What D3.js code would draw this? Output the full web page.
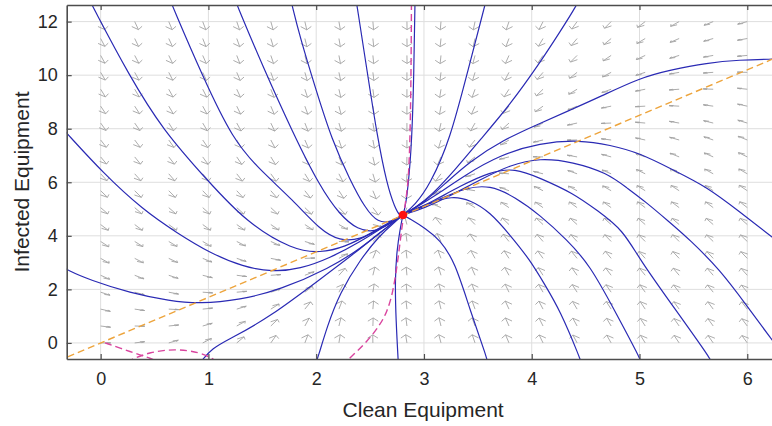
<!DOCTYPE html>
<html>
<head>
<meta charset="utf-8">
<script src="https://cdn.jsdelivr.net/npm/d3@7"></script>
<style>
  body { margin: 0; background: #fff; }
  svg { display: block; }
  text { font-family: "Liberation Sans", Arial, Helvetica, sans-serif; fill: #262626; }
</style>
</head>
<body>
<svg id="chart" width="772" height="426"></svg>
<script>
// ---- axis setup ----
const xTicks = [0, 1, 2, 3, 4, 5, 6];
const yTicks = [0, 2, 4, 6, 8, 10, 12];
const xTitle = "Clean Equipment";
const yTitle = "Infected Equipment";

// ---- equilibrium point ----
const equilibrium = [2.805, 4.78];

// ---- direction field sample grid ----
const quiverX = [0, 0.316, 0.632, 0.947, 1.263, 1.579, 1.895, 2.211, 2.526, 2.842,
                 3.158, 3.474, 3.789, 4.105, 4.421, 4.737, 5.053, 5.368, 5.684, 6];
const quiverY = [12, 11.368, 10.737, 10.105, 9.474, 8.842, 8.211, 7.579, 6.947, 6.316,
                 5.684, 5.053, 4.421, 3.789, 3.158, 2.526, 1.895, 1.263, 0.632, 0];
// arrow heading on screen, degrees (0 = right, 90 = down), one row per quiverY value
const quiverAngle = [
  [63,65,67,69,71,74,77,80,85,89,95,102,109,117,126,135,143,151,158,165],
  [62,64,65,68,70,73,76,80,84,89,96,103,111,121,130,140,149,157,164,170],
  [61,62,64,66,69,71,75,79,84,89,96,105,114,125,135,146,155,163,170,175],
  [59,61,63,65,67,70,74,78,83,90,97,107,118,130,142,152,162,170,176,181],
  [58,59,61,63,65,68,72,77,82,90,99,110,123,136,149,160,169,176,182,186],
  [56,57,59,61,64,67,70,75,81,90,100,114,129,145,158,169,177,183,188,192],
  [54,55,57,59,61,64,68,73,80,90,103,120,138,155,168,178,185,190,194,197],
  [52,53,55,56,59,62,66,71,79,90,107,129,150,167,179,187,192,196,199,202],
  [50,51,52,54,56,58,62,68,77,91,114,142,166,181,190,195,199,202,204,206],
  [47,48,49,50,52,54,58,63,73,92,127,163,184,194,200,203,206,208,209,210],
  [44,45,45,46,47,49,52,57,67,95,157,189,200,206,208,210,212,213,213,214],
  [41,41,41,42,42,43,44,46,53,112,203,211,214,215,216,216,217,217,217,218],
  [37,37,36,36,35,34,33,29,13,255,231,226,224,223,222,222,221,221,221,221],
  [33,32,31,30,27,24,17,2,-44,263,243,235,231,229,227,226,225,225,224,224],
  [29,27,25,22,18,11,-2,-28,-67,264,249,241,237,234,231,230,228,227,227,226],
  [24,21,18,14,7,-4,-21,-48,-76,265,253,246,241,237,235,233,231,230,229,228],
  [18,15,11,4,-5,-18,-38,-61,-81,265,255,248,244,240,237,235,234,232,231,230],
  [13,8,3,-6,-17,-32,-51,-69,-85,264,256,250,245,242,239,237,236,234,233,232],
  [7,1,-6,-16,-29,-44,-61,-76,-88,263,256,250,246,243,241,239,237,235,234,233],
  [0,-7,-16,-27,-40,-55,-69,-81,269,261,255,251,247,244,242,240,238,236,235,234]
];

// ---- nullclines ----
const infectedNullcline = [[-0.4, -0.68], [6.4, 10.88]];
const cleanNullcline = [[2.884, 13.1], [2.884, 12.62], [2.879, 9.07], [2.861, 6.09], [2.824, 5.15],
  [2.786, 4.03], [2.759, 3.1], [2.712, 1.87], [2.657, 1.16], [2.592, 0.67], [2.471, 0.04],
  [2.313, -0.56], [2.257, -0.78]];
const cleanNullclineLow = [
  [[0.041, 0.0], [0.18, -0.19], [0.365, -0.45], [0.504, -0.63], [0.55, -0.75]],
  [[0.25, -0.75], [0.272, -0.63], [0.458, -0.34], [0.689, -0.22], [0.921, -0.34], [1.06, -0.63], [1.09, -0.75]]
];

// ---- trajectories (each ends at the equilibrium) ----
const trajectories = [
  // from the top edge
  [[-0.095, 12.75], [-0.081, 12.62], [0.272, 9.93], [0.578, 7.95], [0.986, 6.09], [1.358, 4.48], [1.784, 3.47], [2.035, 3.36], [2.267, 3.58], [2.499, 4.07], [2.684, 4.52], [2.805, 4.78]],
  [[0.652, 12.75], [0.662, 12.62], [0.949, 9.93], [1.228, 7.58], [1.478, 6.46], [1.784, 5.34], [2.035, 4.22], [2.22, 3.81], [2.406, 3.85], [2.592, 4.26], [2.731, 4.59], [2.805, 4.78]],
  [[1.255, 12.75], [1.265, 12.62], [1.506, 10.31], [1.784, 7.84], [2.035, 5.83], [2.22, 4.78], [2.387, 4.22], [2.545, 4.14], [2.684, 4.44], [2.805, 4.78]],
  [[1.77, 12.75], [1.775, 12.62], [1.849, 11.43], [1.998, 9.45], [2.146, 7.58], [2.313, 6.09], [2.453, 5.04], [2.573, 4.48], [2.703, 4.52], [2.805, 4.78]],
  [[2.372, 12.75], [2.378, 12.62], [2.471, 10.19], [2.564, 7.77], [2.657, 5.9], [2.731, 5.04], [2.777, 4.74], [2.805, 4.78]],
  [[2.917, 12.75], [2.916, 12.62], [2.907, 10.19], [2.889, 7.58], [2.851, 5.71], [2.824, 5.04], [2.805, 4.78]],
  [[3.585, 12.92], [3.566, 12.62], [3.409, 10.19], [3.242, 7.58], [3.055, 5.9], [2.916, 5.15], [2.805, 4.78]],
  [[4.447, 12.92], [4.42, 12.62], [4.261, 11.61], [4.076, 10.46], [3.798, 8.89], [3.52, 7.58], [3.288, 6.46], [3.075, 5.53], [2.916, 5.04], [2.805, 4.78]],
  // from the left edge
  [[-0.378, 8.1], [-0.315, 7.84], [0.021, 6.35], [0.393, 4.97], [0.708, 4.11], [1.014, 3.36], [1.321, 2.84], [1.599, 2.65], [1.849, 2.76], [2.128, 3.17], [2.406, 3.77], [2.638, 4.37], [2.805, 4.78]],
  [[-0.378, 2.91], [-0.315, 2.73], [-0.099, 2.35], [0.272, 1.87], [0.643, 1.57], [0.921, 1.46], [1.293, 1.61], [1.664, 1.98], [2.128, 2.8], [2.406, 3.51], [2.638, 4.26], [2.805, 4.78]],
  // from the bottom edge
  [[0.921, -0.75], [1.033, -0.19], [1.219, 0.19], [1.571, 0.97], [2.063, 2.46], [2.36, 3.36], [2.61, 4.18], [2.805, 4.78]],
  [[1.989, -0.82], [2.016, -0.56], [2.1, 0.6], [2.22, 1.87], [2.406, 3.1], [2.592, 4.03], [2.731, 4.52], [2.805, 4.78]],
  [[2.763, -0.82], [2.74, 0.86], [2.731, 2.35], [2.749, 3.47], [2.777, 4.22], [2.805, 4.78]],
  [[3.595, -0.82], [3.585, -0.56], [3.427, 1.23], [3.288, 3.02], [3.15, 3.85], [3.009, 4.29], [2.889, 4.59], [2.805, 4.78]],
  [[4.466, -0.82], [4.447, -0.56], [4.261, 1.23], [4.122, 2.17], [3.984, 3.1], [3.798, 4.03], [3.613, 4.89], [3.427, 5.34], [3.261, 5.49], [3.055, 5.23], [2.916, 5.0], [2.805, 4.78]],
  [[5.023, -0.82], [5.004, -0.56], [4.772, 1.19], [4.54, 2.91], [4.327, 3.85], [4.076, 4.78], [3.844, 5.45], [3.613, 5.9], [3.381, 5.79], [3.15, 5.38], [2.963, 5.04], [2.805, 4.78]],
  [[5.682, -0.82], [5.654, -0.56], [5.329, 1.27], [5.004, 3.1], [4.846, 4.22], [4.614, 4.93], [4.382, 5.6], [4.076, 6.16], [3.844, 6.53], [3.613, 6.39], [3.335, 5.86], [3.075, 5.27], [2.916, 4.97], [2.805, 4.78]],
  // from the right edge
  [[6.35, -0.52], [6.229, 0.11], [5.99, 1.42], [5.747, 2.73], [5.468, 3.85], [5.264, 4.56], [5.069, 5.23], [4.883, 5.79], [4.698, 6.35], [4.382, 6.76], [4.076, 6.91], [3.798, 6.65], [3.52, 6.09], [3.242, 5.49], [3.009, 5.04], [2.805, 4.78]],
  [[6.35, 3.58], [6.229, 3.96], [5.932, 4.89], [5.626, 5.83], [5.311, 6.46], [5.004, 7.09], [4.726, 7.39], [4.447, 7.58], [4.076, 7.47], [3.705, 7.02], [3.381, 6.27], [3.102, 5.49], [2.916, 5.04], [2.805, 4.78]],
  [[6.35, 10.6], [6.229, 10.6], [5.932, 10.57], [5.626, 10.46], [5.283, 10.19], [5.004, 9.9], [4.632, 9.19], [4.354, 8.69], [4.076, 8.2], [3.733, 7.58], [3.427, 6.78], [3.196, 5.95], [3.009, 5.27], [2.805, 4.78]]
];

// ---- layout ----
const svg = d3.select("#chart");
const plot = { left: 66.7, top: 5, bottom: 359, right: 779.6 };
const x = d3.scaleLinear().domain([-0.315, 6.3]).range([plot.left, plot.right]);
const y = d3.scaleLinear().domain([-0.6, 12.62]).range([plot.bottom, plot.top]);
const kx = x(1) - x(0), ky = y(0) - y(1);

svg.append("defs").append("clipPath").attr("id", "plotClip")
  .append("rect").attr("x", plot.left).attr("y", plot.top)
  .attr("width", plot.right - plot.left).attr("height", plot.bottom - plot.top);

// grid
const grid = svg.append("g").attr("stroke", "#dedede").attr("stroke-width", 1);
grid.selectAll(".gx").data(xTicks).join("line")
  .attr("x1", d => x(d)).attr("x2", d => x(d)).attr("y1", plot.top).attr("y2", plot.bottom);
grid.selectAll(".gy").data(yTicks).join("line")
  .attr("y1", d => y(d)).attr("y2", d => y(d)).attr("x1", plot.left).attr("x2", plot.right);

const body = svg.append("g").attr("clip-path", "url(#plotClip)");

// direction field arrows: head barbs are laid out in data units, as the quiver plot does
function arrowPath(px, py, deg) {
  const t = deg * Math.PI / 180;
  const L = 8 + 2 * Math.abs(Math.cos(t));
  const sx = L * Math.cos(t), sy = L * Math.sin(t);
  const u = sx / kx, v = -sy / ky;
  const a = 0.4, b = 0.4;
  const tx = px + sx, ty = py + sy;
  const b1u = -a * (u + b * v), b1v = -a * (v - b * u);
  const b2u = -a * (u - b * v), b2v = -a * (v + b * u);
  return `M${px},${py}L${tx},${ty}M${tx + b1u * kx},${ty - b1v * ky}L${tx},${ty}L${tx + b2u * kx},${ty - b2v * ky}`;
}
const arrows = [];
quiverY.forEach((yv, r) => quiverX.forEach((xv, c) => arrows.push({ x: xv, y: yv, a: quiverAngle[r][c] })));
body.append("g").attr("fill", "none").attr("stroke", "#a3a3a3").attr("stroke-width", 0.9)
  .selectAll("path").data(arrows).join("path")
  .attr("d", d => arrowPath(x(d.x), y(d.y), d.a));

// trajectories
const smooth = d3.line().x(d => x(d[0])).y(d => y(d[1])).curve(d3.curveBasis);
body.append("g").attr("fill", "none").attr("stroke", "#2a2ab4").attr("stroke-width", 1.2)
  .selectAll("path").data(trajectories).join("path").attr("d", smooth);

// nullclines
const straight = d3.line().x(d => x(d[0])).y(d => y(d[1]));
body.append("path").datum(infectedNullcline).attr("d", straight)
  .attr("fill", "none").attr("stroke", "#eda43c").attr("stroke-width", 1.4).attr("stroke-dasharray", "7,4");
body.append("path").datum(cleanNullcline).attr("d", smooth)
  .attr("fill", "none").attr("stroke", "#d9449e").attr("stroke-width", 1.4).attr("stroke-dasharray", "7,4");
body.append("g").selectAll("path").data(cleanNullclineLow).join("path").attr("d", smooth)
  .attr("fill", "none").attr("stroke", "#d9449e").attr("stroke-width", 1.4).attr("stroke-dasharray", "7,4");

// equilibrium
body.append("circle").attr("cx", x(equilibrium[0])).attr("cy", y(equilibrium[1])).attr("r", 4.3).attr("fill", "#ff1010");

// axes box and ticks
const axisColor = "#4d4d4d";
const xb = svg.append("g").attr("transform", `translate(0,${plot.bottom})`)
  .call(d3.axisBottom(x).tickValues(xTicks).tickFormat(d3.format("d")).tickSize(-5).tickSizeOuter(0).tickPadding(13));
const xt = svg.append("g").attr("transform", `translate(0,${plot.top})`)
  .call(d3.axisTop(x).tickValues(xTicks).tickFormat("").tickSize(-5).tickSizeOuter(0));
const yl = svg.append("g").attr("transform", `translate(${plot.left},0)`)
  .call(d3.axisLeft(y).tickValues(yTicks).tickFormat(d3.format("d")).tickSize(-5).tickSizeOuter(0).tickPadding(9));
[xb, xt, yl].forEach(g => {
  g.select(".domain").attr("stroke", axisColor).attr("stroke-width", 1.6);
  g.selectAll(".tick line").attr("stroke", axisColor).attr("stroke-width", 1.2);
  g.selectAll(".tick text").attr("fill", "#262626").style("font-size", "18px")
    .style("font-family", "'Liberation Sans', Arial, sans-serif");
});

// axis titles
svg.append("text").attr("x", (plot.left + plot.right) / 2).attr("y", 417)
  .attr("text-anchor", "middle").style("font-size", "21px").text(xTitle);
svg.append("text").attr("transform", `translate(29,${(plot.top + plot.bottom) / 2}) rotate(-90)`)
  .attr("text-anchor", "middle").style("font-size", "21px").text(yTitle);
</script>
</body>
</html>
